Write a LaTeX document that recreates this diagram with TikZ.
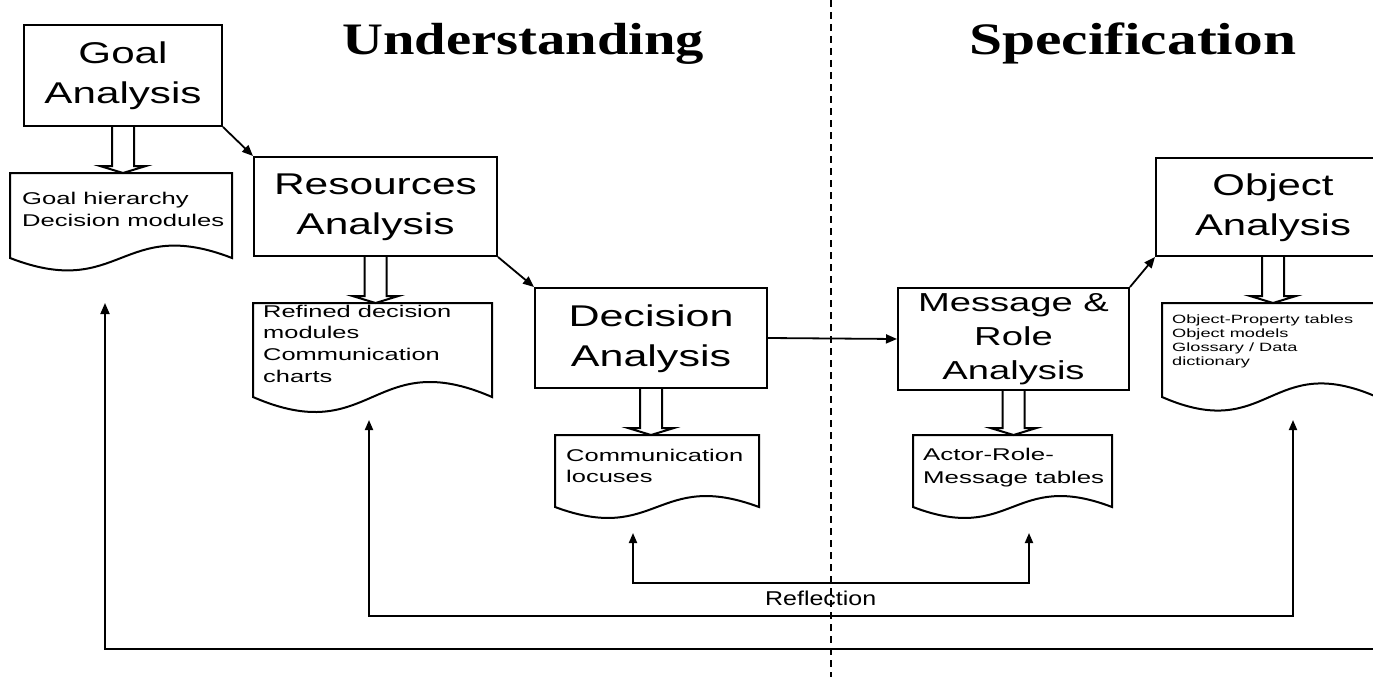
\documentclass[tikz,border=0pt]{standalone}
\usepackage{graphicx}
\usepackage{fontspec}
\setmainfont{Liberation Sans}
\newfontfamily\titlefont{Liberation Serif}
\usetikzlibrary{arrows.meta,calc}

% text set at a given size and stretched to a given width (height kept)
\newcommand{\stretchtext}[4]{\resizebox{#1pt}{\height}{\fontsize{#2}{#3}\selectfont#4}}

% document symbol: rectangle area with a wavy bottom edge
\newcommand{\docoutline}[2]{%
  \draw[outline] (#1.north west) -- (#1.south west)
    .. controls ($(#1.south)+(0,#2)$) and ($(#1.south)+(0,-#2)$) .. (#1.south east)
    -- (#1.north east) -- cycle;}

% broad hollow arrow from a process box down to its document
\newcommand{\hollowarrow}[2]{%
  \draw[blockarrow] ($(#1.south)+(-11,0)$)
    -- ($(#1.south |- #2.north)+(-11,-7)$) -- ++(-12,0)
    -- (#1.south |- #2.north)
    -- ($(#1.south |- #2.north)+(23,-7)$) -- ++(-12,0)
    -- ($(#1.south)+(11,0)$);}

\begin{document}
\begin{tikzpicture}[x=1pt,y=-1pt,
  procbox/.style={draw, line width=2pt, fill=white, rectangle, inner sep=0pt, anchor=north west},
  docarea/.style={rectangle, inner sep=0pt, outer sep=0pt, anchor=north west},
  doctext/.style={anchor=base west, inner sep=0pt},
  outline/.style={draw, line width=2pt, line join=miter},
  blockarrow/.style={draw, fill=white, line width=2pt},
  tiparrow/.style={line width=1.8pt, -{Triangle[length=11pt,width=9pt]}},
  fbarrow/.style={line width=1.8pt, {Triangle[length=10pt,width=8pt]}-{Triangle[length=10pt,width=8pt]}},
  divider/.style={line width=2pt, dash pattern=on 7pt off 5pt},
]
\path[use as bounding box] (0,0) rectangle (1373,677);
\clip (0,0) rectangle (1373,677);

% phase divider
\coordinate (divTop) at (831,0);
\coordinate (divBot) at (831,677);
\draw[divider] (divTop) -- (divBot);

% phase titles
\node[doctext] (under) at (342,55)
  {\resizebox{362pt}{\height}{\fontsize{45}{54}\selectfont\titlefont\bfseries Understanding}};
\node[doctext] (spec) at (969,55)
  {\resizebox{327pt}{\height}{\fontsize{45}{54}\selectfont\titlefont\bfseries Specification}};

% analysis steps
\node[procbox, minimum width=198pt, minimum height=101pt] (goal) at (23,24)
  {\stretchtext{157}{30}{40}{\begin{tabular}{@{}c@{}}Goal\\Analysis\end{tabular}}};
\node[procbox, minimum width=243pt, minimum height=99pt] (res) at (253,156)
  {\stretchtext{203}{30}{40}{\begin{tabular}{@{}c@{}}Resources\\Analysis\end{tabular}}};
\node[procbox, minimum width=232pt, minimum height=100pt] (dec) at (534,287)
  {\stretchtext{165}{30}{40}{\begin{tabular}{@{}c@{}}Decision\\Analysis\end{tabular}}};
\node[procbox, minimum width=231pt, minimum height=100pt] (msg) at (897,287)
  {\stretchtext{191}{26}{34}{\begin{tabular}{@{}c@{}}Message \&\\Role\\Analysis\end{tabular}}};
\node[procbox, minimum width=234pt, minimum height=98pt] (obj) at (1155,157)
  {\stretchtext{156}{30}{40}{\begin{tabular}{@{}c@{}}Object\\Analysis\end{tabular}}};

% document areas
\node[docarea, minimum width=222pt, minimum height=85pt] (d1) at (10,173) {};
\node[docarea, minimum width=239pt, minimum height=94pt] (d2) at (253,303) {};
\node[docarea, minimum width=204pt, minimum height=72pt] (d3) at (555,435) {};
\node[docarea, minimum width=199pt, minimum height=72pt] (d4) at (913,435) {};
\node[docarea, minimum width=215pt, minimum height=94pt] (d5) at (1162,303) {};

% hollow arrows from steps to their products
\hollowarrow{goal}{d1}
\hollowarrow{res}{d2}
\hollowarrow{dec}{d3}
\hollowarrow{msg}{d4}
\hollowarrow{obj}{d5}

% document outlines
\docoutline{d1}{43}
\docoutline{d2}{52}
\docoutline{d3}{38}
\docoutline{d4}{38}
\docoutline{d5}{47}

% document contents
\node[doctext] (t1) at (22,204)
  {\stretchtext{202}{17}{22.5}{\begin{tabular}[t]{@{}l@{}}Goal hierarchy\\Decision modules\end{tabular}}};
\node[doctext] (t2) at (263,317)
  {\stretchtext{188}{17}{21.7}{\begin{tabular}[t]{@{}l@{}}Refined decision\\modules\\Communication\\charts\end{tabular}}};
\node[doctext] (t3) at (566,461)
  {\stretchtext{177}{17}{21}{\begin{tabular}[t]{@{}l@{}}Communication\\locuses\end{tabular}}};
\node[doctext] (t4) at (923,460)
  {\stretchtext{181}{17}{23}{\begin{tabular}[t]{@{}l@{}}Actor-Role-\\Message tables\end{tabular}}};
\node[doctext] (t5) at (1172,323)
  {\stretchtext{181}{12}{14.2}{\begin{tabular}[t]{@{}l@{}}Object-Property tables\\Object models\\Glossary / Data\\dictionary\end{tabular}}};

% flow between steps
\draw[tiparrow] (goal.south east) -- (res.north west);
\draw[tiparrow] (res.south east) -- (dec.north west);
\draw[tiparrow] (dec.east) -- (msg.west);
\draw[tiparrow] (msg.north east) -- (obj.south west);

% reflection loops
\coordinate (outerTip) at (105,303);
\coordinate (outerEnd) at (1380,649);
\draw[tiparrow] (outerEnd) -- (outerEnd -| outerTip) -- (outerTip);

\coordinate (midL) at (369,420);
\coordinate (midR) at (1293,420);
\coordinate (midLow) at (369,616);
\draw[fbarrow] (midL) -- (midLow) -- (midLow -| midR) -- (midR);

\coordinate (innL) at (633,533);
\coordinate (innR) at (1029,533);
\coordinate (innLow) at (633,583);
\draw[fbarrow] (innL) -- (innLow) -- (innLow -| innR) -- (innR);

\node[doctext] (refl) at (765,605) {\stretchtext{111}{20}{24}{Reflection}};
\end{tikzpicture}
\end{document}
